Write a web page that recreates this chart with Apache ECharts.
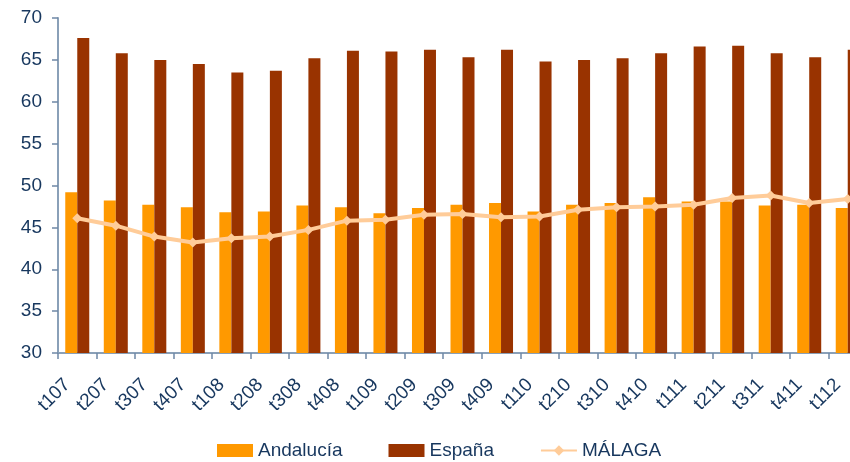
<!DOCTYPE html>
<html lang="es">
<head>
    <meta charset="UTF-8">
    <title>Andalucía - España - Málaga</title>
    <script src="https://cdn.jsdelivr.net/npm/echarts@6/dist/echarts.min.js"></script>
</head>
<body style="margin:0;overflow:hidden;">
<!-- the original picture cuts the last bar, so the chart is a bit wider than the window -->
<div id="container" style="width:870px;height:462px;"></div>
<script>

    var trimestres = ['t107', 't207', 't307', 't407', 't108', 't208', 't308', 't408', 't109', 't209', 't309',
        't409', 't110', 't210', 't310', 't410', 't111', 't211', 't311', 't411', 't112'];
    var andalucia = [49.2, 48.2, 47.7, 47.4, 46.8, 46.9, 47.6, 47.4, 46.7, 47.3, 47.7,
        47.9, 46.9, 47.7, 47.9, 48.6, 48.1, 48.1, 47.6, 47.7, 47.3];
    var espana = [67.6, 65.8, 65.0, 64.5, 63.5, 63.7, 65.2, 66.1, 66.0, 66.2, 65.3,
        66.2, 64.8, 65.0, 65.2, 65.8, 66.6, 66.7, 65.8, 65.3, 66.2];
    var malaga = [46.1, 45.2, 43.9, 43.2, 43.7, 43.9, 44.7, 45.8, 45.9, 46.5, 46.6,
        46.2, 46.3, 47.1, 47.4, 47.5, 47.7, 48.5, 48.8, 47.9, 48.4];

    var azul = '#17375e';
    var font = "'Liberation Sans', Arial, sans-serif";

    var myChart = echarts.init(document.getElementById('container'));

    myChart.setOption({
        backgroundColor: '#fff',
        animation: false,
        textStyle: {fontFamily: font},
        grid: {left: 58, top: 18, width: 809, height: 335},
        legend: {
            bottom: -3,
            left: 212,
            itemWidth: 36,
            itemHeight: 13,
            itemGap: 46,
            textStyle: {color: azul, fontSize: 19, fontFamily: font},
            data: [{name: 'Andalucía', icon: 'rect'}, {name: 'España', icon: 'rect'}, {name: 'MÁLAGA'}]
        },
        xAxis: {
            type: 'category',
            data: trimestres,
            axisLine: {lineStyle: {color: '#8aa0b8', width: 2}},
            axisTick: {show: true, length: 6, lineStyle: {color: '#6f88a6', width: 1.5}},
            axisLabel: {rotate: 45, color: azul, fontSize: 19, margin: 19, padding: [0, 14, 0, 0], fontFamily: font}
        },
        yAxis: {
            type: 'value',
            min: 30,
            max: 70,
            interval: 5,
            splitLine: {show: false},
            axisLine: {show: true, lineStyle: {color: '#8aa0b8', width: 2}},
            axisTick: {show: true, length: 6, lineStyle: {color: '#6f88a6', width: 1.5}},
            axisLabel: {color: azul, fontSize: 19, margin: 16, fontFamily: font}
        },
        series: [
            {
                name: 'Andalucía',
                type: 'bar',
                data: andalucia,
                barWidth: 12,
                barGap: '0%',
                itemStyle: {color: '#ff9900'}
            },
            {
                name: 'España',
                type: 'bar',
                data: espana,
                barWidth: 12,
                barGap: '0%',
                itemStyle: {color: '#993300'}
            },
            {
                name: 'MÁLAGA',
                type: 'line',
                data: malaga,
                symbol: 'diamond',
                symbolSize: 10,
                lineStyle: {color: '#ffcc99', width: 4},
                itemStyle: {color: '#ffcc99'},
                z: 5
            }
        ]
    });

</script>
</body>
</html>
